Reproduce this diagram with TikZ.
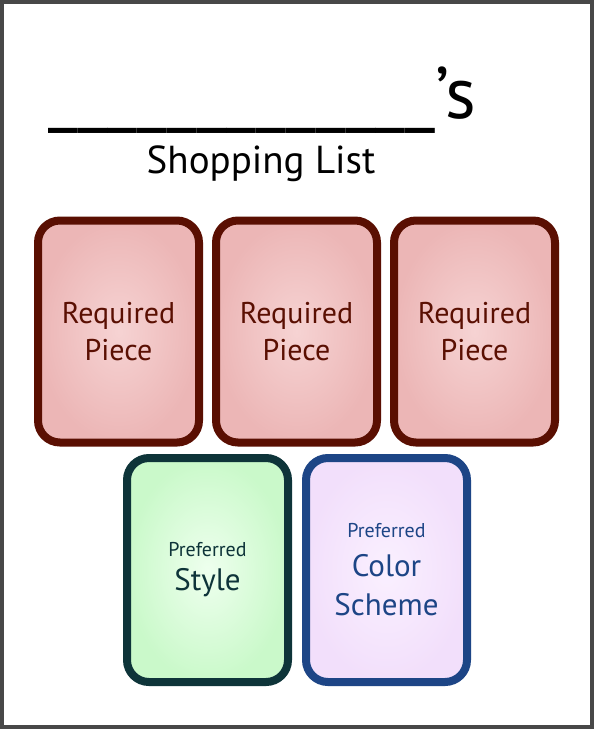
\documentclass[tikz,border=0pt]{standalone}
\usepackage{fontspec}
\setmainfont{PT Sans}
\usetikzlibrary{positioning,shadows}

\definecolor{framegray}{HTML}{484848}
\definecolor{pieceline}{HTML}{5A0F02}
\definecolor{piecein}{HTML}{F6D3D3}
\definecolor{pieceout}{HTML}{ECB6B6}
\definecolor{styleline}{HTML}{0E3439}
\definecolor{stylein}{HTML}{EEFFEE}
\definecolor{styleout}{HTML}{CAF9CA}
\definecolor{schemeline}{HTML}{1D4586}
\definecolor{schemein}{HTML}{FAF0FF}
\definecolor{schemeout}{HTML}{F2DFFB}

\newcommand\prefsize{\fontsize{20}{24}\selectfont}

\begin{document}
\begin{tikzpicture}[x=1pt,y=-1pt,
  card/.style={rectangle, rounded corners=22pt, line width=8pt,
    minimum width=161pt, align=center,
    drop shadow={shadow xshift=1.5pt, shadow yshift=-1.5pt, opacity=0.3}},
  piece/.style={card, minimum height=222pt, draw=pieceline,
    inner color=piecein, outer color=pieceout, text=pieceline,
    font=\fontsize{30}{37}\selectfont},
  wish/.style={card, minimum height=224pt}]

  \useasboundingbox (0,0) rectangle (594,729);

  % page frame
  \fill[framegray] (0,0) rectangle (594,729);
  \fill[white] (4,4) rectangle (590,725);

  % heading
  \node[anchor=base, font=\fontsize{73}{76}\selectfont] (owner) at (262,118)
    {\_\_\_\_\_\_\_\_\_\_\_\_\_\symbol{39}s};
  \node[anchor=base, font=\fontsize{39}{42}\selectfont] (listname) at (261,173)
    {Shopping List};

  % required pieces
  \node[piece] (piece1) at (118.5,331.5) {Required\\Piece};
  \node[piece, right=9pt of piece1] (piece2) {Required\\Piece};
  \node[piece, right=9pt of piece2] (piece3) {Required\\Piece};

  % preferences
  \node[wish, draw=styleline, inner color=stylein, outer color=styleout,
    text=styleline, font=\fontsize{31}{34}\selectfont] (style) at (207.5,570)
    {{\prefsize Preferred}\\Style};
  \node[wish, draw=schemeline, inner color=schemein, outer color=schemeout,
    text=schemeline, font=\fontsize{31}{39}\selectfont, right=10pt of style] (scheme)
    {{\prefsize Preferred}\\Color\\Scheme};
\end{tikzpicture}
\end{document}
